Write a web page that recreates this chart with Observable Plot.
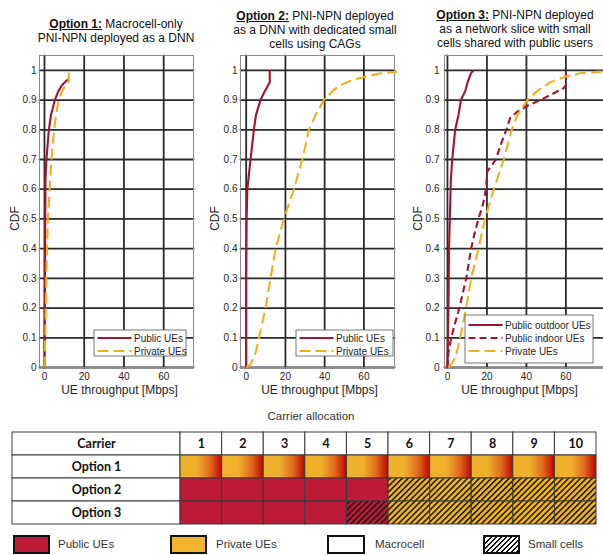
<!DOCTYPE html>
<html><head><meta charset="utf-8">
<script src="https://cdn.jsdelivr.net/npm/d3@7"></script>
<script src="https://cdn.jsdelivr.net/npm/@observablehq/plot@0.6"></script>
<style>
html,body{margin:0;padding:0;background:#fff;overflow:hidden;}
#root{position:relative;width:603px;height:555px;font-family:"Liberation Sans",Arial,sans-serif;color:#222;overflow:hidden;}
.panel{position:absolute;top:0;}
.panel svg{max-width:none !important;}
.title{position:absolute;font-size:12px;line-height:14px;text-align:center;white-space:nowrap;transform:translateX(-50%);color:#111;}
.title span{font-weight:bold;text-decoration:underline;}
.caption{position:absolute;font-size:11.5px;white-space:nowrap;transform:translateX(-50%);color:#333;}
.lg{position:absolute;top:535px;height:19px;box-sizing:border-box;border:2.5px solid #111;}
.lgt{position:absolute;top:538px;font-size:11.5px;color:#333;white-space:nowrap;}
</style></head>
<body><div id="root">
<div id="p1" class="panel" style="left:0px;width:200px"></div>
<div id="p2" class="panel" style="left:200px;width:200px"></div>
<div id="p3" class="panel" style="left:400px;width:210px"></div>
<div class="title" style="left:116px;top:17px"><span>Option 1:</span> Macrocell-only<br>PNI-NPN deployed as a DNN</div>
<div class="title" style="left:315px;top:9px"><span>Option 2:</span> PNI-NPN deployed<br>as a DNN with dedicated small<br>cells using CAGs</div>
<div class="title" style="left:515px;top:8px"><span>Option 3:</span> PNI-NPN deployed<br>as a network slice with small<br>cells shared with public users</div>
<div class="caption" style="left:311px;top:410px">Carrier allocation</div>
<div id="table" style="position:absolute;left:0;top:428px"></div>
<div class="lg" style="left:13px;width:37px;background:#BD1A38"></div>
<div class="lgt" style="left:58px">Public UEs</div>
<div class="lg" style="left:170px;width:37px;background:#F0B62E"></div>
<div class="lgt" style="left:216px">Private UEs</div>
<div class="lg" style="left:327px;width:38px;background:#fff"></div>
<div class="lgt" style="left:375px">Macrocell</div>
<div class="lg" style="left:483px;width:37px;background:repeating-linear-gradient(135deg,#111 0 1.4px,#fff 1.4px 3.6px)"></div>
<div class="lgt" style="left:528px">Small cells</div>
</div>
<script>
// ---------- data ----------
const xTicks = [0, 20, 40, 60];
const yTicks = [0, 0.1, 0.2, 0.3, 0.4, 0.5, 0.6, 0.7, 0.8, 0.9, 1];

// Option 1
const o1PublicX  = [0, 0.1, 0.25, 0.4, 0.5, 1.0, 2.2, 3.3, 5.2, 7.0, 8.8, 11.0, 12.0];
const o1PublicY  = [0, 0.1, 0.3, 0.5, 0.63, 0.7, 0.8, 0.85, 0.9, 0.93, 0.95, 0.965, 0.97];
const o1PrivateX = [0, 0.4, 0.9, 1.7, 2.9, 3.5, 4.9, 5.8, 7.2, 8.9, 10.5, 11.6, 12.2, 12.2];
const o1PrivateY = [0, 0.1, 0.3, 0.5, 0.63, 0.7, 0.8, 0.85, 0.9, 0.93, 0.95, 0.96, 0.96, 1.0];
// Option 2
const o2PublicX  = [0, 0, 0.2, 0.6, 2.2, 3.9, 5.0, 7.3, 9.5, 12.0, 12.0];
const o2PublicY  = [0, 0.3, 0.5, 0.6, 0.7, 0.8, 0.85, 0.9, 0.93, 0.96, 1.0];
const o2PrivateX = [0, 2.2, 4.8, 6.5, 9.9, 12.4, 15.0, 19.2, 24.3, 28.6, 32.0, 35.4, 39.6, 43.9, 48.0, 55.0, 61.7, 68.5, 77.0];
const o2PrivateY = [0, 0.01, 0.05, 0.1, 0.2, 0.3, 0.4, 0.5, 0.6, 0.7, 0.8, 0.85, 0.9, 0.93, 0.95, 0.97, 0.98, 0.99, 0.995];
// Option 3
const o3OutdoorX = [0, 0.5, 0.8, 1.2, 1.7, 2.4, 3.9, 5.6, 6.8, 9.0, 10.2, 11.9, 13.2];
const o3OutdoorY = [0, 0.2, 0.4, 0.5, 0.63, 0.7, 0.8, 0.85, 0.9, 0.93, 0.96, 0.99, 1.0];
const o3IndoorX  = [0, 0.5, 1.9, 3.9, 6.0, 9.5, 12.0, 13.7, 15.7, 18.0, 19.5, 20.2, 24.5, 27.0, 29.8, 31.8, 35.2, 40.3, 47.0, 53.0, 58.9, 60.0, 60.0];
const o3IndoorY  = [0, 0.05, 0.1, 0.15, 0.2, 0.3, 0.4, 0.45, 0.5, 0.55, 0.6, 0.66, 0.7, 0.75, 0.8, 0.84, 0.86, 0.88, 0.9, 0.92, 0.94, 0.95, 1.0];
const o3PrivateX = [0.5, 3.0, 4.7, 6.4, 9.5, 12.0, 15.7, 19.0, 23.5, 28.5, 32.5, 35.5, 40.5, 45.3, 52.1, 60.5, 67.3, 75.8, 80.0];
const o3PrivateY = [0, 0.02, 0.05, 0.1, 0.2, 0.3, 0.4, 0.5, 0.6, 0.7, 0.8, 0.85, 0.9, 0.93, 0.96, 0.98, 0.99, 0.995, 0.996];

// Carrier allocation table
const carriers = [1, 2, 3, 4, 5, 6, 7, 8, 9, 10];
const options = ["Option 1", "Option 2", "Option 3"];
const option1Alloc = ["shared","shared","shared","shared","shared","shared","shared","shared","shared","shared"];
const option2Alloc = ["public","public","public","public","public","privateSmall","privateSmall","privateSmall","privateSmall","privateSmall"];
const option3Alloc = ["public","public","public","public","publicSmall","privateSmall","privateSmall","privateSmall","privateSmall","privateSmall"];

// ---------- styling ----------
const PUBLIC = "#A2142F", PRIVATE = "#EDB120";
const DASH_PRIV = "11,5", DASH_IND = "7,4";
const GRID = "#2a2a2a";
const Y_DOMAIN = [0, 1.05];
const pts = (xs, ys) => xs.map((x, i) => ({x, y: ys[i]}));

function cdfPanel(el, cfg) {
  const xd = cfg.xDomain;
  const grid = [
    ...xTicks.flatMap(t => [{x: t, y: Y_DOMAIN[0], k: "x" + t}, {x: t, y: Y_DOMAIN[1], k: "x" + t}]),
    ...yTicks.flatMap(t => [{x: xd[0], y: t, k: "y" + t}, {x: xd[1], y: t, k: "y" + t}])
  ];
  const marks = [
    Plot.line(grid, {x: "x", y: "y", z: "k", stroke: GRID, strokeWidth: 1.8}),
    Plot.frame({stroke: "#8a8a8a", strokeWidth: 1}),
    Plot.axisX({ticks: xTicks, tickSize: 0, tickPadding: 5, label: null, fontSize: 10}),
    Plot.axisY({ticks: yTicks, tickSize: 0, tickPadding: cfg.yPad, tickFormat: d3.format("~g"), label: null, fontSize: 10}),
    ...cfg.series.map(s => Plot.line(pts(s.x, s.y), {x: "x", y: "y", stroke: s.color, strokeWidth: 2.1, strokeDasharray: s.dash, strokeLinecap: "butt"})),
    Plot.text(["CDF"], {text: d => d, frameAnchor: "left", textAnchor: "middle", lineAnchor: "middle", rotate: -90, dx: cfg.cdfDx, dy: 7, fontSize: 12, fill: "#262626"}),
    Plot.text(["UE throughput [Mbps]"], {text: d => d, frameAnchor: "bottom", textAnchor: "middle", lineAnchor: "middle", dx: cfg.labDx, dy: 23, fontSize: 12, fill: "#262626"})
  ];
  const svg = Plot.plot({
    width: cfg.width, height: 400,
    marginTop: 55, marginBottom: 33, marginLeft: cfg.ml, marginRight: cfg.mr,
    x: {domain: xd}, y: {domain: Y_DOMAIN},
    style: {fontFamily: "Liberation Sans, Arial, sans-serif", fontSize: "10px", color: "#262626", background: "transparent", overflow: "visible", maxWidth: "none"},
    marks
  });
  const L = cfg.legend;
  const g = d3.select(svg).append("g").attr("font-size", 10).attr("fill", "#262626").attr("text-anchor", "start");
  g.append("rect").attr("x", L.x).attr("y", L.y).attr("width", L.w).attr("height", L.h)
    .attr("fill", "white").attr("stroke", "#555").attr("stroke-width", 0.8);
  cfg.series.forEach((s, i) => {
    const yy = L.y + L.r0 + i * 13;
    g.append("path").attr("d", `M${L.x + 3.5},${yy}H${L.x + 37.5}`)
      .attr("fill", "none").attr("stroke", s.color).attr("stroke-width", 2.1).attr("stroke-dasharray", s.dash || null);
    g.append("text").attr("x", L.x + 40).attr("y", yy).attr("dy", "0.35em").attr("text-anchor", "start").text(s.label);
  });
  document.getElementById(el).appendChild(svg);
}

cdfPanel("p1", {width: 200, ml: 39, mr: 7, xDomain: [-2.5, 75], yPad: 3, cdfDx: -24, labDx: 3,
  series: [
    {label: "Public UEs", x: o1PublicX, y: o1PublicY, color: PUBLIC},
    {label: "Private UEs", x: o1PrivateX, y: o1PrivateY, color: PRIVATE, dash: DASH_PRIV}
  ],
  legend: {x: 94, y: 330, w: 92, h: 26, r0: 8}});

cdfPanel("p2", {width: 200, ml: 40, mr: 6, xDomain: [-2.9, 75.6], yPad: 3, cdfDx: -25, labDx: 2,
  series: [
    {label: "Public UEs", x: o2PublicX, y: o2PublicY, color: PUBLIC},
    {label: "Private UEs", x: o2PrivateX, y: o2PrivateY, color: PRIVATE, dash: DASH_PRIV}
  ],
  legend: {x: 96, y: 330, w: 97, h: 26, r0: 8}});

cdfPanel("p3", {width: 210, ml: 44, mr: 0, xDomain: [-1.5, 82.6], yPad: 5, cdfDx: -26, labDx: -8,
  series: [
    {label: "Public outdoor UEs", x: o3OutdoorX, y: o3OutdoorY, color: PUBLIC},
    {label: "Public indoor UEs", x: o3IndoorX, y: o3IndoorY, color: PUBLIC, dash: DASH_IND},
    {label: "Private UEs", x: o3PrivateX, y: o3PrivateY, color: PRIVATE, dash: DASH_PRIV}
  ],
  legend: {x: 65, y: 315, w: 128, h: 48, r0: 10}});

// ---------- table ----------
const labelSpan = 4.04;
const fills = {shared: "url(#gradShared)", public: "#BD1A38", privateSmall: "url(#hatchPriv)", publicSmall: "url(#hatchPub)"};
const allocs = [option1Alloc, option2Alloc, option3Alloc];
const cells = [{row: "Carrier", x1: -labelSpan, x2: 0, label: "Carrier", fill: "white"}];
carriers.forEach(c => cells.push({row: "Carrier", x1: c - 1, x2: c, label: String(c), fill: "white"}));
options.forEach((o, i) => {
  cells.push({row: o, x1: -labelSpan, x2: 0, label: o, fill: "white"});
  allocs[i].forEach((k, j) => cells.push({row: o, x1: carriers[j] - 1, x2: carriers[j], label: "", fill: fills[k]}));
});
const table = Plot.plot({
  width: 603, height: 100, marginTop: 3, marginBottom: 3, marginLeft: 12, marginRight: 7,
  x: {domain: [-labelSpan, 10], axis: null},
  y: {domain: ["Carrier", ...options], padding: 0, axis: null},
  color: {type: "identity"},
  style: {background: "transparent", overflow: "visible", maxWidth: "none"},
  marks: [
    Plot.barX(cells, {x1: "x1", x2: "x2", y: "row", fill: "fill", stroke: "#3a3a3a", strokeWidth: 1, inset: 0}),
    Plot.text(cells.filter(d => d.label), {x: d => (d.x1 + d.x2) / 2, y: "row", text: "label",
      fontFamily: "Lato, sans-serif", fontWeight: "bold", fontSize: 12.5, fill: "#111"})
  ]
});
d3.select(table).append("defs").html(`
  <linearGradient id="gradShared" x1="0" x2="1" y1="0" y2="0">
    <stop offset="0" stop-color="#EFB22C"/><stop offset="0.4" stop-color="#EFB02C"/>
    <stop offset="0.72" stop-color="#DF6A1C"/><stop offset="1" stop-color="#BE0606"/>
  </linearGradient>
  <pattern id="hatchPriv" patternUnits="userSpaceOnUse" width="4.2" height="4.2" patternTransform="rotate(45)">
    <rect width="4.2" height="4.2" fill="#F3B619"/><path d="M0.8,0V4.2" stroke="#111" stroke-width="1.5"/>
  </pattern>
  <pattern id="hatchPub" patternUnits="userSpaceOnUse" width="4.2" height="4.2" patternTransform="rotate(45)">
    <rect width="4.2" height="4.2" fill="#BD1A38"/><path d="M0.8,0V4.2" stroke="#111" stroke-width="1.5"/>
  </pattern>`);
document.getElementById("table").appendChild(table);
</script>
</body></html>
